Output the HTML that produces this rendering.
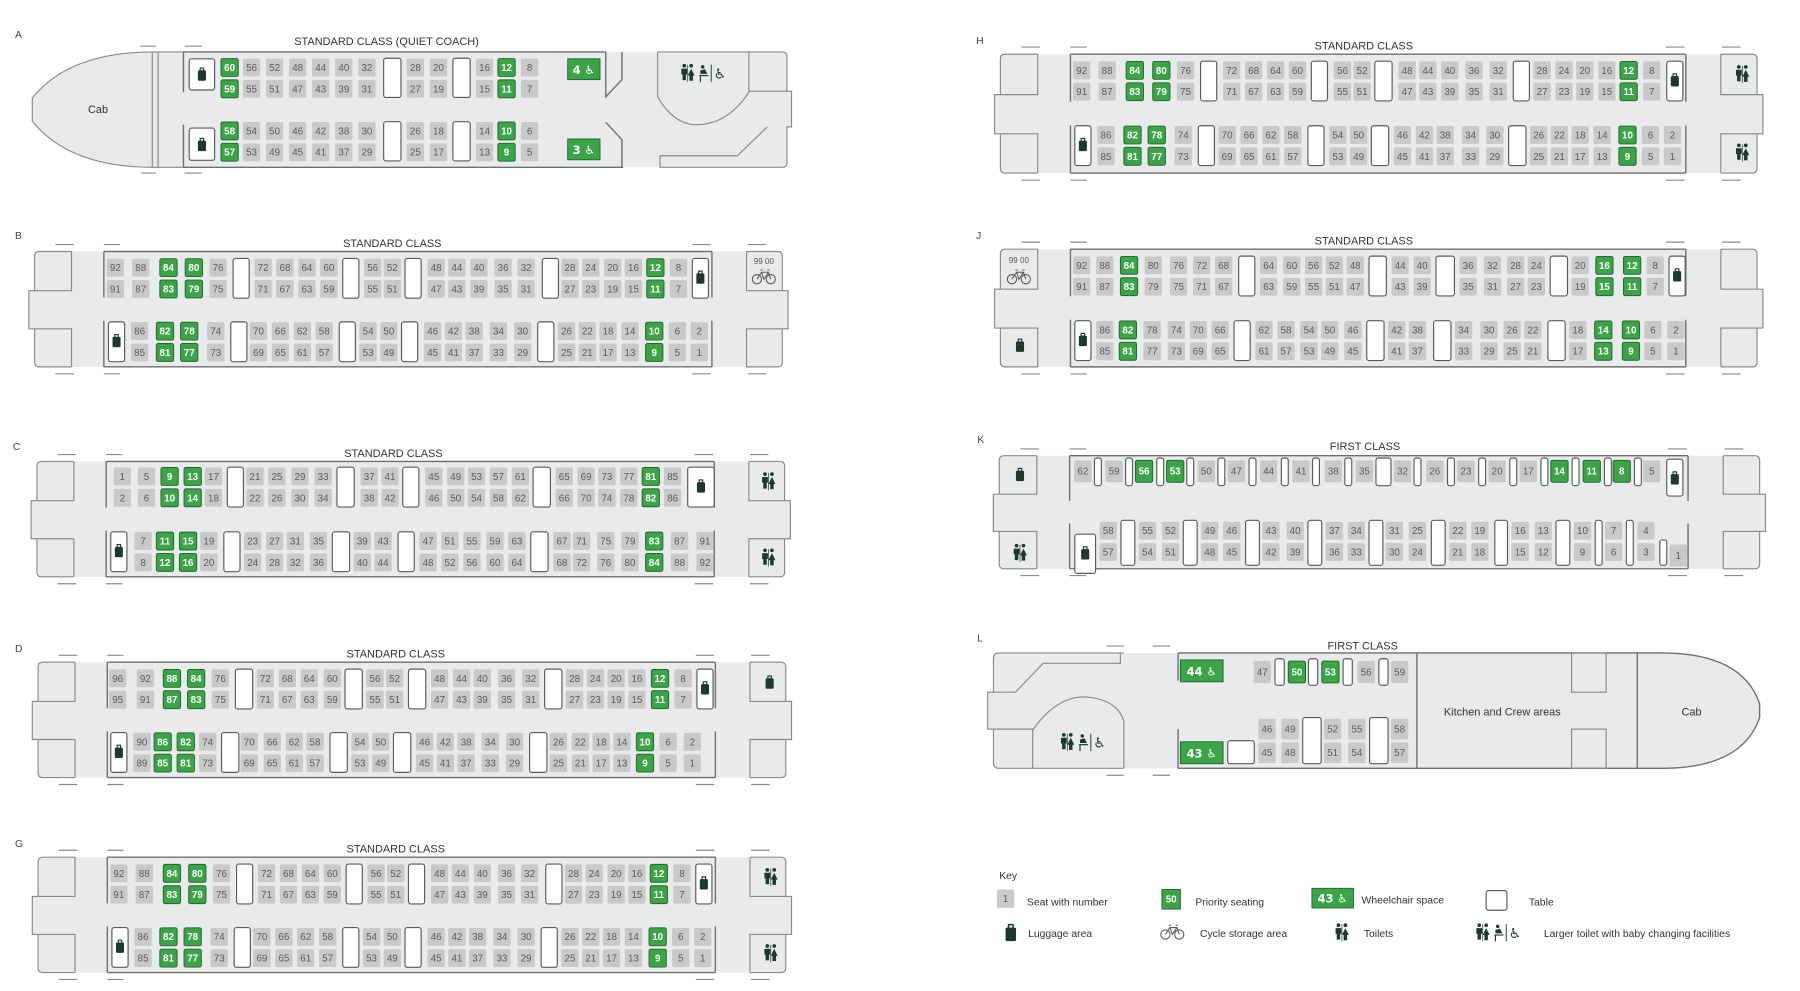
<!DOCTYPE html>
<html><head><meta charset="utf-8"><style>
html,body{margin:0;padding:0;background:#fff}
svg{display:block}
.n{font:8.5px "Liberation Sans Narrow","Liberation Sans",sans-serif;fill:#5a5a5a;text-anchor:middle}
.w{fill:#fff;font-weight:bold}
.t{fill:#fff;stroke:#5a5a5a;stroke-width:1}
.o{fill:none;stroke:#8a8a8a;stroke-width:1}
.s{fill:none;stroke:#6f6f6f;stroke-width:1.2}
.h{font:9.5px "Liberation Sans",sans-serif;fill:#333;text-anchor:middle}
.k{font:9px "Liberation Sans",sans-serif;fill:#333}
.lb{font:9px "Liberation Sans",sans-serif;fill:#444}
.wh{font:10px "DejaVu Sans",sans-serif;fill:#fff;text-anchor:middle;font-weight:bold}
.g{fill:#3aa447;stroke:#22662f;stroke-width:.8}
</style></head><body>
<svg width="1800" height="991" viewBox="0 0 1560 859" preserveAspectRatio="none" xmlns="http://www.w3.org/2000/svg">
<defs>
<g id="P"><rect x="-7.5" y="-7.75" width="15" height="15.5" rx="1.5" fill="#c9c9c9"/><rect x="-7.5" y="10.75" width="15" height="15.5" rx="1.5" fill="#c9c9c9"/></g>
<g id="Q"><rect class="g" x="-7.5" y="-7.75" width="15" height="15.5" rx="1.5"/><rect class="g" x="-7.5" y="10.75" width="15" height="15.5" rx="1.5"/></g>
<g id="lug" fill="#1c3a2b"><rect x="-3.5" y="-3" width="7" height="9" rx="1"/><rect x="-1.5" y="-5" width="3" height="2.5" fill="none" stroke="#1c3a2b" stroke-width="1"/></g>
<g id="wc" fill="#1c3a2b"><circle cx="-3" cy="-6" r="1.6"/><path d="M-5.5,-3.5h5v5h-1v5h-3v-5h-1z"/><circle cx="3" cy="-6" r="1.6"/><path d="M3,-3.5l3,6h-1.5v4.5h-3v-4.5h-1.5z"/><rect x="-0.3" y="-7" width="0.6" height="15"/></g>
<g id="bk" fill="none" stroke="#555" stroke-width="0.9"><circle cx="-6" cy="2" r="4"/><circle cx="6" cy="2" r="4"/><path d="M-6,2L-2,-4H4L6,2M-2,-4L0,2L4,-4M-3,-6H-1M3,-6H5"/></g>
<g id="big"><use href="#wc" x="-15" y="0"/><g fill="#1c3a2b"><circle cx="-2" cy="-5" r="1.5"/><path d="M-4,-2L0,-3L2,1H-4z"/><path d="M-5,2H3V3H-5z"/><rect x="-4.5" y="3" width="1" height="5"/></g><rect x="5" y="-7" width="0.8" height="15" fill="#1c3a2b"/><text x="13" y="5" style="font:12px 'DejaVu Sans',sans-serif;fill:#1c3a2b;text-anchor:middle">♿</text></g>
<g id="SH">
<rect x="0" y="0" width="648" height="100" rx="4" fill="#e9eaeb"/>
<rect x="-5" y="34" width="658" height="33" fill="#e9eaeb"/>
<path class="o" d="M32,0H4Q0,0 0,4V34H-5V67H0V96Q0,100 4,100H32M32,0V34H0M32,100V67H0"/>
<path class="o" d="M617,0H644Q648,0 648,4V34H653V67H648V96Q648,100 644,100H617M617,0V34H648M617,100V67H648"/>
<path class="s" d="M60,0H587M60,100H587M60,0V40M60,60V100M587,0V40M587,60V100"/>
<path class="o" d="M18,-6H34M60,-6H74M570,-6H586M618,-6H634M18,106H34M60,106H74M570,106H586M618,106H634"/>
</g>
</defs>

<!-- ============ A ============ -->
<text class="lb" x="13" y="33">A</text>
<text class="h" x="335" y="39">STANDARD CLASS (QUIET COACH)</text>
<path fill="#e9eaeb" d="M133,45H678Q682,45 682,49V141Q682,145 678,145H133Q60,145 28,105V85Q60,45 133,45Z"/>
<rect x="682" y="79" width="4" height="31" fill="#e9eaeb"/>
<path class="o" d="M159,45H133Q60,45 28,85V105Q60,145 133,145H159M132,45V145M137,45V145"/>
<path class="s" d="M159,45H525M159,145H540M159,45V80M159,108V145M525,45V84L539,69V45M525,106L539,121V145"/>
<path class="o" d="M570,45H678Q682,45 682,49V79H686V110H682V141Q682,145 678,145H572V135H639L665,110M570,45V84Q585,110 607,108Q632,106 649,80V45M649,79H686"/>
<path class="o" d="M122,40H135M160,40H175M122,150H135M160,150H175"/>
<text class="h" x="85" y="98">Cab</text>
<rect class="t" x="164" y="51" width="22" height="27" rx="2"/><use href="#lug" x="175" y="64"/>
<rect class="t" x="164" y="111" width="22" height="28" rx="2"/><use href="#lug" x="175" y="125"/>
<use href="#Q" x="199" y="58.5"/><use href="#P" x="218" y="58.5"/><use href="#P" x="238" y="58.5"/><use href="#P" x="258" y="58.5"/><use href="#P" x="278" y="58.5"/><use href="#P" x="298" y="58.5"/><use href="#P" x="318" y="58.5"/><use href="#P" x="360" y="58.5"/><use href="#P" x="380" y="58.5"/><use href="#P" x="420" y="58.5"/><use href="#Q" x="439" y="58.5"/><use href="#P" x="459" y="58.5"/>
<use href="#Q" x="199" y="113.5"/><use href="#P" x="218" y="113.5"/><use href="#P" x="238" y="113.5"/><use href="#P" x="258" y="113.5"/><use href="#P" x="278" y="113.5"/><use href="#P" x="298" y="113.5"/><use href="#P" x="318" y="113.5"/><use href="#P" x="360" y="113.5"/><use href="#P" x="380" y="113.5"/><use href="#P" x="420" y="113.5"/><use href="#Q" x="439" y="113.5"/><use href="#P" x="459" y="113.5"/>
<rect class="t" x="332.5" y="50.5" width="15" height="34" rx="2"/><rect class="t" x="392.5" y="50.5" width="15" height="34" rx="2"/>
<rect class="t" x="332.5" y="105.5" width="15" height="34" rx="2"/><rect class="t" x="392.5" y="105.5" width="15" height="34" rx="2"/>
<text class="n" y="61.5"><tspan x="199" class="w">60</tspan><tspan x="218">56</tspan><tspan x="238">52</tspan><tspan x="258">48</tspan><tspan x="278">44</tspan><tspan x="298">40</tspan><tspan x="318">32</tspan><tspan x="360">28</tspan><tspan x="380">20</tspan><tspan x="420">16</tspan><tspan x="439" class="w">12</tspan><tspan x="459">8</tspan></text>
<text class="n" y="80"><tspan x="199" class="w">59</tspan><tspan x="218">55</tspan><tspan x="238">51</tspan><tspan x="258">47</tspan><tspan x="278">43</tspan><tspan x="298">39</tspan><tspan x="318">31</tspan><tspan x="360">27</tspan><tspan x="380">19</tspan><tspan x="420">15</tspan><tspan x="439" class="w">11</tspan><tspan x="459">7</tspan></text>
<text class="n" y="116.5"><tspan x="199" class="w">58</tspan><tspan x="218">54</tspan><tspan x="238">50</tspan><tspan x="258">46</tspan><tspan x="278">42</tspan><tspan x="298">38</tspan><tspan x="318">30</tspan><tspan x="360">26</tspan><tspan x="380">18</tspan><tspan x="420">14</tspan><tspan x="439" class="w">10</tspan><tspan x="459">6</tspan></text>
<text class="n" y="135"><tspan x="199" class="w">57</tspan><tspan x="218">53</tspan><tspan x="238">49</tspan><tspan x="258">45</tspan><tspan x="278">41</tspan><tspan x="298">37</tspan><tspan x="318">29</tspan><tspan x="360">25</tspan><tspan x="380">17</tspan><tspan x="420">13</tspan><tspan x="439" class="w">9</tspan><tspan x="459">5</tspan></text>
<rect class="g" x="492" y="51" width="28" height="18"/><text class="wh" x="506" y="64">4 ♿</text>
<rect class="g" x="492" y="120.5" width="28" height="18"/><text class="wh" x="506" y="133.5">3 ♿</text>
<use href="#big" x="611" y="63"/>

<!-- ============ B ============ -->
<text class="lb" x="13" y="207">B</text>
<text class="h" x="340" y="214">STANDARD CLASS</text>
<use href="#SH" x="30" y="218"/>
<text x="662" y="229" style="font:7px 'Liberation Sans',sans-serif;fill:#555;text-anchor:middle">99 00</text><use href="#bk" x="662" y="240"/>
<use href="#P" x="100" y="232"/><use href="#P" x="122" y="232"/><use href="#Q" x="146" y="232"/><use href="#Q" x="168" y="232"/><use href="#P" x="189" y="232"/><use href="#P" x="228" y="232"/><use href="#P" x="247" y="232"/><use href="#P" x="266" y="232"/><use href="#P" x="285" y="232"/><use href="#P" x="323" y="232"/><use href="#P" x="340" y="232"/><use href="#P" x="378" y="232"/><use href="#P" x="396" y="232"/><use href="#P" x="415" y="232"/><use href="#P" x="436" y="232"/><use href="#P" x="456" y="232"/><use href="#P" x="494" y="232"/><use href="#P" x="512" y="232"/><use href="#P" x="531" y="232"/><use href="#P" x="549" y="232"/><use href="#Q" x="568" y="232"/><use href="#P" x="588" y="232"/>
<rect class="t" x="202" y="224" width="14" height="34.5" rx="2"/><rect class="t" x="297" y="224" width="14" height="34.5" rx="2"/><rect class="t" x="351" y="224" width="14" height="34.5" rx="2"/><rect class="t" x="470" y="224" width="14" height="34.5" rx="2"/>
<rect class="t" x="600" y="224" width="14" height="34.5" rx="2"/><use href="#lug" x="607" y="240"/>
<text class="n" y="235"><tspan x="100">92</tspan><tspan x="122">88</tspan><tspan x="146" class="w">84</tspan><tspan x="168" class="w">80</tspan><tspan x="189">76</tspan><tspan x="228">72</tspan><tspan x="247">68</tspan><tspan x="266">64</tspan><tspan x="285">60</tspan><tspan x="323">56</tspan><tspan x="340">52</tspan><tspan x="378">48</tspan><tspan x="396">44</tspan><tspan x="415">40</tspan><tspan x="436">36</tspan><tspan x="456">32</tspan><tspan x="494">28</tspan><tspan x="512">24</tspan><tspan x="531">20</tspan><tspan x="549">16</tspan><tspan x="568" class="w">12</tspan><tspan x="588">8</tspan></text>
<text class="n" y="253.5"><tspan x="100">91</tspan><tspan x="122">87</tspan><tspan x="146" class="w">83</tspan><tspan x="168" class="w">79</tspan><tspan x="189">75</tspan><tspan x="228">71</tspan><tspan x="247">67</tspan><tspan x="266">63</tspan><tspan x="285">59</tspan><tspan x="323">55</tspan><tspan x="340">51</tspan><tspan x="378">47</tspan><tspan x="396">43</tspan><tspan x="415">39</tspan><tspan x="436">35</tspan><tspan x="456">31</tspan><tspan x="494">27</tspan><tspan x="512">23</tspan><tspan x="531">19</tspan><tspan x="549">15</tspan><tspan x="568" class="w">11</tspan><tspan x="588">7</tspan></text>
<rect class="t" x="94" y="279" width="14" height="34.5" rx="2"/><use href="#lug" x="101" y="295"/>
<use href="#P" x="121" y="287"/><use href="#Q" x="143" y="287"/><use href="#Q" x="164" y="287"/><use href="#P" x="187" y="287"/><use href="#P" x="224" y="287"/><use href="#P" x="243" y="287"/><use href="#P" x="262" y="287"/><use href="#P" x="281" y="287"/><use href="#P" x="319" y="287"/><use href="#P" x="337" y="287"/><use href="#P" x="375" y="287"/><use href="#P" x="393" y="287"/><use href="#P" x="411" y="287"/><use href="#P" x="432" y="287"/><use href="#P" x="453" y="287"/><use href="#P" x="491" y="287"/><use href="#P" x="509" y="287"/><use href="#P" x="527" y="287"/><use href="#P" x="546" y="287"/><use href="#Q" x="567" y="287"/><use href="#P" x="587" y="287"/><use href="#P" x="606" y="287"/>
<rect class="t" x="200" y="279" width="14" height="34.5" rx="2"/><rect class="t" x="294" y="279" width="14" height="34.5" rx="2"/><rect class="t" x="348" y="279" width="14" height="34.5" rx="2"/><rect class="t" x="466" y="279" width="14" height="34.5" rx="2"/>
<text class="n" y="290"><tspan x="121">86</tspan><tspan x="143" class="w">82</tspan><tspan x="164" class="w">78</tspan><tspan x="187">74</tspan><tspan x="224">70</tspan><tspan x="243">66</tspan><tspan x="262">62</tspan><tspan x="281">58</tspan><tspan x="319">54</tspan><tspan x="337">50</tspan><tspan x="375">46</tspan><tspan x="393">42</tspan><tspan x="411">38</tspan><tspan x="432">34</tspan><tspan x="453">30</tspan><tspan x="491">26</tspan><tspan x="509">22</tspan><tspan x="527">18</tspan><tspan x="546">14</tspan><tspan x="567" class="w">10</tspan><tspan x="587">6</tspan><tspan x="606">2</tspan></text>
<text class="n" y="308.5"><tspan x="121">85</tspan><tspan x="143" class="w">81</tspan><tspan x="164" class="w">77</tspan><tspan x="187">73</tspan><tspan x="224">69</tspan><tspan x="243">65</tspan><tspan x="262">61</tspan><tspan x="281">57</tspan><tspan x="319">53</tspan><tspan x="337">49</tspan><tspan x="375">45</tspan><tspan x="393">41</tspan><tspan x="411">37</tspan><tspan x="432">33</tspan><tspan x="453">29</tspan><tspan x="491">25</tspan><tspan x="509">21</tspan><tspan x="527">17</tspan><tspan x="546">13</tspan><tspan x="567" class="w">9</tspan><tspan x="587">5</tspan><tspan x="606">1</tspan></text>

<!-- ============ C ============ -->
<text class="lb" x="11" y="390">C</text>
<text class="h" x="341" y="396">STANDARD CLASS</text>
<use href="#SH" x="32" y="400"/>
<use href="#wc" x="666" y="417"/><use href="#wc" x="666" y="483"/>
<use href="#P" x="106" y="413"/><use href="#P" x="127" y="413"/><use href="#Q" x="147" y="413"/><use href="#Q" x="167" y="413"/><use href="#P" x="185" y="413"/><use href="#P" x="221" y="413"/><use href="#P" x="240" y="413"/><use href="#P" x="260" y="413"/><use href="#P" x="280" y="413"/><use href="#P" x="320" y="413"/><use href="#P" x="338" y="413"/><use href="#P" x="376" y="413"/><use href="#P" x="395" y="413"/><use href="#P" x="413" y="413"/><use href="#P" x="432" y="413"/><use href="#P" x="451" y="413"/><use href="#P" x="489" y="413"/><use href="#P" x="508" y="413"/><use href="#P" x="526" y="413"/><use href="#P" x="545" y="413"/><use href="#Q" x="564" y="413"/><use href="#P" x="583" y="413"/>
<rect class="t" x="197" y="405" width="14" height="34.5" rx="2"/><rect class="t" x="292" y="405" width="15" height="34.5" rx="2"/><rect class="t" x="349" y="405" width="14" height="34.5" rx="2"/><rect class="t" x="462" y="405" width="15" height="34.5" rx="2"/>
<rect class="t" x="596" y="405" width="23" height="34.5" rx="2"/><use href="#lug" x="607.5" y="421"/>
<text class="n" y="416"><tspan x="106">1</tspan><tspan x="127">5</tspan><tspan x="147" class="w">9</tspan><tspan x="167" class="w">13</tspan><tspan x="185">17</tspan><tspan x="221">21</tspan><tspan x="240">25</tspan><tspan x="260">29</tspan><tspan x="280">33</tspan><tspan x="320">37</tspan><tspan x="338">41</tspan><tspan x="376">45</tspan><tspan x="395">49</tspan><tspan x="413">53</tspan><tspan x="432">57</tspan><tspan x="451">61</tspan><tspan x="489">65</tspan><tspan x="508">69</tspan><tspan x="526">73</tspan><tspan x="545">77</tspan><tspan x="564" class="w">81</tspan><tspan x="583">85</tspan></text>
<text class="n" y="434.5"><tspan x="106">2</tspan><tspan x="127">6</tspan><tspan x="147" class="w">10</tspan><tspan x="167" class="w">14</tspan><tspan x="185">18</tspan><tspan x="221">22</tspan><tspan x="240">26</tspan><tspan x="260">30</tspan><tspan x="280">34</tspan><tspan x="320">38</tspan><tspan x="338">42</tspan><tspan x="376">46</tspan><tspan x="395">50</tspan><tspan x="413">54</tspan><tspan x="432">58</tspan><tspan x="451">62</tspan><tspan x="489">66</tspan><tspan x="508">70</tspan><tspan x="526">74</tspan><tspan x="545">78</tspan><tspan x="564" class="w">82</tspan><tspan x="583">86</tspan></text>
<rect class="t" x="96" y="461" width="14" height="34.5" rx="2"/><use href="#lug" x="103" y="477"/>
<use href="#P" x="124" y="469"/><use href="#Q" x="143" y="469"/><use href="#Q" x="163" y="469"/><use href="#P" x="181" y="469"/><use href="#P" x="219" y="469"/><use href="#P" x="238" y="469"/><use href="#P" x="256" y="469"/><use href="#P" x="276" y="469"/><use href="#P" x="314" y="469"/><use href="#P" x="332" y="469"/><use href="#P" x="371" y="469"/><use href="#P" x="390" y="469"/><use href="#P" x="409" y="469"/><use href="#P" x="429" y="469"/><use href="#P" x="448" y="469"/><use href="#P" x="487" y="469"/><use href="#P" x="504" y="469"/><use href="#P" x="525" y="469"/><use href="#P" x="546" y="469"/><use href="#Q" x="567" y="469"/><use href="#P" x="589" y="469"/><use href="#P" x="611" y="469"/>
<rect class="t" x="194" y="461" width="14" height="34.5" rx="2"/><rect class="t" x="288" y="461" width="15" height="34.5" rx="2"/><rect class="t" x="345" y="461" width="14" height="34.5" rx="2"/><rect class="t" x="460" y="461" width="15" height="34.5" rx="2"/>
<text class="n" y="472"><tspan x="124">7</tspan><tspan x="143" class="w">11</tspan><tspan x="163" class="w">15</tspan><tspan x="181">19</tspan><tspan x="219">23</tspan><tspan x="238">27</tspan><tspan x="256">31</tspan><tspan x="276">35</tspan><tspan x="314">39</tspan><tspan x="332">43</tspan><tspan x="371">47</tspan><tspan x="390">51</tspan><tspan x="409">55</tspan><tspan x="429">59</tspan><tspan x="448">63</tspan><tspan x="487">67</tspan><tspan x="504">71</tspan><tspan x="525">75</tspan><tspan x="546">79</tspan><tspan x="567" class="w">83</tspan><tspan x="589">87</tspan><tspan x="611">91</tspan></text>
<text class="n" y="490.5"><tspan x="124">8</tspan><tspan x="143" class="w">12</tspan><tspan x="163" class="w">16</tspan><tspan x="181">20</tspan><tspan x="219">24</tspan><tspan x="238">28</tspan><tspan x="256">32</tspan><tspan x="276">36</tspan><tspan x="314">40</tspan><tspan x="332">44</tspan><tspan x="371">48</tspan><tspan x="390">52</tspan><tspan x="409">56</tspan><tspan x="429">60</tspan><tspan x="448">64</tspan><tspan x="487">68</tspan><tspan x="504">72</tspan><tspan x="525">76</tspan><tspan x="546">80</tspan><tspan x="567" class="w">84</tspan><tspan x="589">88</tspan><tspan x="611">92</tspan></text>

<!-- ============ D ============ -->
<text class="lb" x="13" y="565">D</text>
<text class="h" x="343" y="570">STANDARD CLASS</text>
<use href="#SH" x="33" y="574"/>
<use href="#lug" x="667" y="591"/>
<use href="#P" x="102" y="588"/><use href="#P" x="126" y="588"/><use href="#Q" x="149" y="588"/><use href="#Q" x="170" y="588"/><use href="#P" x="191" y="588"/><use href="#P" x="230" y="588"/><use href="#P" x="249" y="588"/><use href="#P" x="268" y="588"/><use href="#P" x="288" y="588"/><use href="#P" x="325" y="588"/><use href="#P" x="342" y="588"/><use href="#P" x="381" y="588"/><use href="#P" x="400" y="588"/><use href="#P" x="418" y="588"/><use href="#P" x="439" y="588"/><use href="#P" x="460" y="588"/><use href="#P" x="498" y="588"/><use href="#P" x="516" y="588"/><use href="#P" x="534" y="588"/><use href="#P" x="552" y="588"/><use href="#Q" x="572" y="588"/><use href="#P" x="592" y="588"/>
<rect class="t" x="204" y="580" width="15" height="34.5" rx="2"/><rect class="t" x="299" y="580" width="15" height="34.5" rx="2"/><rect class="t" x="354" y="580" width="15" height="34.5" rx="2"/><rect class="t" x="472" y="580" width="15" height="34.5" rx="2"/>
<rect class="t" x="604" y="580" width="14" height="34.5" rx="2"/><use href="#lug" x="611" y="596"/>
<text class="n" y="591"><tspan x="102">96</tspan><tspan x="126">92</tspan><tspan x="149" class="w">88</tspan><tspan x="170" class="w">84</tspan><tspan x="191">76</tspan><tspan x="230">72</tspan><tspan x="249">68</tspan><tspan x="268">64</tspan><tspan x="288">60</tspan><tspan x="325">56</tspan><tspan x="342">52</tspan><tspan x="381">48</tspan><tspan x="400">44</tspan><tspan x="418">40</tspan><tspan x="439">36</tspan><tspan x="460">32</tspan><tspan x="498">28</tspan><tspan x="516">24</tspan><tspan x="534">20</tspan><tspan x="552">16</tspan><tspan x="572" class="w">12</tspan><tspan x="592">8</tspan></text>
<text class="n" y="609.5"><tspan x="102">95</tspan><tspan x="126">91</tspan><tspan x="149" class="w">87</tspan><tspan x="170" class="w">83</tspan><tspan x="191">75</tspan><tspan x="230">71</tspan><tspan x="249">67</tspan><tspan x="268">63</tspan><tspan x="288">59</tspan><tspan x="325">55</tspan><tspan x="342">51</tspan><tspan x="381">47</tspan><tspan x="400">43</tspan><tspan x="418">39</tspan><tspan x="439">35</tspan><tspan x="460">31</tspan><tspan x="498">27</tspan><tspan x="516">23</tspan><tspan x="534">19</tspan><tspan x="552">15</tspan><tspan x="572" class="w">11</tspan><tspan x="592">7</tspan></text>
<rect class="t" x="96" y="635" width="14" height="34.5" rx="2"/><use href="#lug" x="103" y="651"/>
<use href="#P" x="123" y="643"/><use href="#Q" x="141" y="643"/><use href="#Q" x="161" y="643"/><use href="#P" x="180" y="643"/><use href="#P" x="216" y="643"/><use href="#P" x="236" y="643"/><use href="#P" x="255" y="643"/><use href="#P" x="273" y="643"/><use href="#P" x="312" y="643"/><use href="#P" x="330" y="643"/><use href="#P" x="368" y="643"/><use href="#P" x="386" y="643"/><use href="#P" x="404" y="643"/><use href="#P" x="425" y="643"/><use href="#P" x="446" y="643"/><use href="#P" x="484" y="643"/><use href="#P" x="503" y="643"/><use href="#P" x="521" y="643"/><use href="#P" x="539" y="643"/><use href="#Q" x="559" y="643"/><use href="#P" x="579" y="643"/><use href="#P" x="600" y="643"/>
<rect class="t" x="192" y="635" width="15" height="34.5" rx="2"/><rect class="t" x="286" y="635" width="15" height="34.5" rx="2"/><rect class="t" x="341" y="635" width="15" height="34.5" rx="2"/><rect class="t" x="459" y="635" width="15" height="34.5" rx="2"/>
<text class="n" y="646"><tspan x="123">90</tspan><tspan x="141" class="w">86</tspan><tspan x="161" class="w">82</tspan><tspan x="180">74</tspan><tspan x="216">70</tspan><tspan x="236">66</tspan><tspan x="255">62</tspan><tspan x="273">58</tspan><tspan x="312">54</tspan><tspan x="330">50</tspan><tspan x="368">46</tspan><tspan x="386">42</tspan><tspan x="404">38</tspan><tspan x="425">34</tspan><tspan x="446">30</tspan><tspan x="484">26</tspan><tspan x="503">22</tspan><tspan x="521">18</tspan><tspan x="539">14</tspan><tspan x="559" class="w">10</tspan><tspan x="579">6</tspan><tspan x="600">2</tspan></text>
<text class="n" y="664.5"><tspan x="123">89</tspan><tspan x="141" class="w">85</tspan><tspan x="161" class="w">81</tspan><tspan x="180">73</tspan><tspan x="216">69</tspan><tspan x="236">65</tspan><tspan x="255">61</tspan><tspan x="273">57</tspan><tspan x="312">53</tspan><tspan x="330">49</tspan><tspan x="368">45</tspan><tspan x="386">41</tspan><tspan x="404">37</tspan><tspan x="425">33</tspan><tspan x="446">29</tspan><tspan x="484">25</tspan><tspan x="503">21</tspan><tspan x="521">17</tspan><tspan x="539">13</tspan><tspan x="559" class="w">9</tspan><tspan x="579">5</tspan><tspan x="600">1</tspan></text>

<!-- ============ G ============ -->
<text class="lb" x="13" y="734">G</text>
<text class="h" x="343" y="739">STANDARD CLASS</text>
<use href="#SH" x="33" y="743"/>
<use href="#wc" x="668" y="760"/><use href="#wc" x="668" y="826"/>
<use href="#P" x="103" y="757"/><use href="#P" x="125" y="757"/><use href="#Q" x="149" y="757"/><use href="#Q" x="171" y="757"/><use href="#P" x="192" y="757"/><use href="#P" x="231" y="757"/><use href="#P" x="250" y="757"/><use href="#P" x="269" y="757"/><use href="#P" x="288" y="757"/><use href="#P" x="326" y="757"/><use href="#P" x="343" y="757"/><use href="#P" x="381" y="757"/><use href="#P" x="399" y="757"/><use href="#P" x="418" y="757"/><use href="#P" x="439" y="757"/><use href="#P" x="459" y="757"/><use href="#P" x="497" y="757"/><use href="#P" x="515" y="757"/><use href="#P" x="534" y="757"/><use href="#P" x="552" y="757"/><use href="#Q" x="571" y="757"/><use href="#P" x="591" y="757"/>
<rect class="t" x="205" y="749" width="14" height="34.5" rx="2"/><rect class="t" x="300" y="749" width="14" height="34.5" rx="2"/><rect class="t" x="354" y="749" width="14" height="34.5" rx="2"/><rect class="t" x="473" y="749" width="14" height="34.5" rx="2"/>
<rect class="t" x="603" y="749" width="14" height="34.5" rx="2"/><use href="#lug" x="610" y="765"/>
<text class="n" y="760"><tspan x="103">92</tspan><tspan x="125">88</tspan><tspan x="149" class="w">84</tspan><tspan x="171" class="w">80</tspan><tspan x="192">76</tspan><tspan x="231">72</tspan><tspan x="250">68</tspan><tspan x="269">64</tspan><tspan x="288">60</tspan><tspan x="326">56</tspan><tspan x="343">52</tspan><tspan x="381">48</tspan><tspan x="399">44</tspan><tspan x="418">40</tspan><tspan x="439">36</tspan><tspan x="459">32</tspan><tspan x="497">28</tspan><tspan x="515">24</tspan><tspan x="534">20</tspan><tspan x="552">16</tspan><tspan x="571" class="w">12</tspan><tspan x="591">8</tspan></text>
<text class="n" y="778.5"><tspan x="103">91</tspan><tspan x="125">87</tspan><tspan x="149" class="w">83</tspan><tspan x="171" class="w">79</tspan><tspan x="192">75</tspan><tspan x="231">71</tspan><tspan x="250">67</tspan><tspan x="269">63</tspan><tspan x="288">59</tspan><tspan x="326">55</tspan><tspan x="343">51</tspan><tspan x="381">47</tspan><tspan x="399">43</tspan><tspan x="418">39</tspan><tspan x="439">35</tspan><tspan x="459">31</tspan><tspan x="497">27</tspan><tspan x="515">23</tspan><tspan x="534">19</tspan><tspan x="552">15</tspan><tspan x="571" class="w">11</tspan><tspan x="591">7</tspan></text>
<rect class="t" x="97" y="804" width="14" height="34.5" rx="2"/><use href="#lug" x="104" y="820"/>
<use href="#P" x="124" y="812"/><use href="#Q" x="146" y="812"/><use href="#Q" x="167" y="812"/><use href="#P" x="190" y="812"/><use href="#P" x="227" y="812"/><use href="#P" x="246" y="812"/><use href="#P" x="265" y="812"/><use href="#P" x="284" y="812"/><use href="#P" x="322" y="812"/><use href="#P" x="340" y="812"/><use href="#P" x="378" y="812"/><use href="#P" x="396" y="812"/><use href="#P" x="414" y="812"/><use href="#P" x="435" y="812"/><use href="#P" x="456" y="812"/><use href="#P" x="494" y="812"/><use href="#P" x="512" y="812"/><use href="#P" x="530" y="812"/><use href="#P" x="549" y="812"/><use href="#Q" x="570" y="812"/><use href="#P" x="590" y="812"/><use href="#P" x="609" y="812"/>
<rect class="t" x="203" y="804" width="14" height="34.5" rx="2"/><rect class="t" x="297" y="804" width="14" height="34.5" rx="2"/><rect class="t" x="351" y="804" width="14" height="34.5" rx="2"/><rect class="t" x="469" y="804" width="14" height="34.5" rx="2"/>
<text class="n" y="815"><tspan x="124">86</tspan><tspan x="146" class="w">82</tspan><tspan x="167" class="w">78</tspan><tspan x="190">74</tspan><tspan x="227">70</tspan><tspan x="246">66</tspan><tspan x="265">62</tspan><tspan x="284">58</tspan><tspan x="322">54</tspan><tspan x="340">50</tspan><tspan x="378">46</tspan><tspan x="396">42</tspan><tspan x="414">38</tspan><tspan x="435">34</tspan><tspan x="456">30</tspan><tspan x="494">26</tspan><tspan x="512">22</tspan><tspan x="530">18</tspan><tspan x="549">14</tspan><tspan x="570" class="w">10</tspan><tspan x="590">6</tspan><tspan x="609">2</tspan></text>
<text class="n" y="833.5"><tspan x="124">85</tspan><tspan x="146" class="w">81</tspan><tspan x="167" class="w">77</tspan><tspan x="190">73</tspan><tspan x="227">69</tspan><tspan x="246">65</tspan><tspan x="265">61</tspan><tspan x="284">57</tspan><tspan x="322">53</tspan><tspan x="340">49</tspan><tspan x="378">45</tspan><tspan x="396">41</tspan><tspan x="414">37</tspan><tspan x="435">33</tspan><tspan x="456">29</tspan><tspan x="494">25</tspan><tspan x="512">21</tspan><tspan x="530">17</tspan><tspan x="549">13</tspan><tspan x="570" class="w">9</tspan><tspan x="590">5</tspan><tspan x="609">1</tspan></text>

<!-- ============ H ============ -->
<text class="lb" x="846" y="38">H</text>
<text class="h" x="1182" y="43">STANDARD CLASS</text>
<use href="#SH" transform="translate(867,47) scale(1.012,1.03)"/>
<use href="#wc" x="1510" y="64"/><use href="#wc" x="1510" y="132"/>
<g transform="translate(3.5,0)">
<use href="#P" x="934" y="61"/><use href="#P" x="956" y="61"/><use href="#Q" x="980" y="61"/><use href="#Q" x="1003" y="61"/><use href="#P" x="1024" y="61"/><use href="#P" x="1064" y="61"/><use href="#P" x="1083" y="61"/><use href="#P" x="1102" y="61"/><use href="#P" x="1121" y="61"/><use href="#P" x="1160" y="61"/><use href="#P" x="1177" y="61"/><use href="#P" x="1216" y="61"/><use href="#P" x="1234" y="61"/><use href="#P" x="1253" y="61"/><use href="#P" x="1274" y="61"/><use href="#P" x="1295" y="61"/><use href="#P" x="1333" y="61"/><use href="#P" x="1352" y="61"/><use href="#P" x="1370" y="61"/><use href="#P" x="1389" y="61"/><use href="#Q" x="1408" y="61"/><use href="#P" x="1428" y="61"/>
<rect class="t" x="1037" y="53" width="14" height="34.5" rx="2"/><rect class="t" x="1133" y="53" width="14" height="34.5" rx="2"/><rect class="t" x="1188" y="53" width="15" height="34.5" rx="2"/><rect class="t" x="1308" y="53" width="14" height="34.5" rx="2"/>
<rect class="t" x="1441" y="53" width="14" height="34.5" rx="2"/><use href="#lug" x="1448" y="69"/>
<text class="n" y="64"><tspan x="934">92</tspan><tspan x="956">88</tspan><tspan x="980" class="w">84</tspan><tspan x="1003" class="w">80</tspan><tspan x="1024">76</tspan><tspan x="1064">72</tspan><tspan x="1083">68</tspan><tspan x="1102">64</tspan><tspan x="1121">60</tspan><tspan x="1160">56</tspan><tspan x="1177">52</tspan><tspan x="1216">48</tspan><tspan x="1234">44</tspan><tspan x="1253">40</tspan><tspan x="1274">36</tspan><tspan x="1295">32</tspan><tspan x="1333">28</tspan><tspan x="1352">24</tspan><tspan x="1370">20</tspan><tspan x="1389">16</tspan><tspan x="1408" class="w">12</tspan><tspan x="1428">8</tspan></text>
<text class="n" y="82.5"><tspan x="934">91</tspan><tspan x="956">87</tspan><tspan x="980" class="w">83</tspan><tspan x="1003" class="w">79</tspan><tspan x="1024">75</tspan><tspan x="1064">71</tspan><tspan x="1083">67</tspan><tspan x="1102">63</tspan><tspan x="1121">59</tspan><tspan x="1160">55</tspan><tspan x="1177">51</tspan><tspan x="1216">47</tspan><tspan x="1234">43</tspan><tspan x="1253">39</tspan><tspan x="1274">35</tspan><tspan x="1295">31</tspan><tspan x="1333">27</tspan><tspan x="1352">23</tspan><tspan x="1370">19</tspan><tspan x="1389">15</tspan><tspan x="1408" class="w">11</tspan><tspan x="1428">7</tspan></text>
<rect class="t" x="928" y="109" width="14" height="34.5" rx="2"/><use href="#lug" x="935" y="125"/>
<use href="#P" x="955" y="117"/><use href="#Q" x="978" y="117"/><use href="#Q" x="999" y="117"/><use href="#P" x="1022" y="117"/><use href="#P" x="1060" y="117"/><use href="#P" x="1079" y="117"/><use href="#P" x="1098" y="117"/><use href="#P" x="1117" y="117"/><use href="#P" x="1156" y="117"/><use href="#P" x="1174" y="117"/><use href="#P" x="1212" y="117"/><use href="#P" x="1231" y="117"/><use href="#P" x="1249" y="117"/><use href="#P" x="1271" y="117"/><use href="#P" x="1292" y="117"/><use href="#P" x="1330" y="117"/><use href="#P" x="1348" y="117"/><use href="#P" x="1366" y="117"/><use href="#P" x="1385" y="117"/><use href="#Q" x="1407" y="117"/><use href="#P" x="1427" y="117"/><use href="#P" x="1446" y="117"/>
<rect class="t" x="1035" y="109" width="14" height="34.5" rx="2"/><rect class="t" x="1130" y="109" width="14" height="34.5" rx="2"/><rect class="t" x="1185" y="109" width="15" height="34.5" rx="2"/><rect class="t" x="1304" y="109" width="15" height="34.5" rx="2"/>
<text class="n" y="120"><tspan x="955">86</tspan><tspan x="978" class="w">82</tspan><tspan x="999" class="w">78</tspan><tspan x="1022">74</tspan><tspan x="1060">70</tspan><tspan x="1079">66</tspan><tspan x="1098">62</tspan><tspan x="1117">58</tspan><tspan x="1156">54</tspan><tspan x="1174">50</tspan><tspan x="1212">46</tspan><tspan x="1231">42</tspan><tspan x="1249">38</tspan><tspan x="1271">34</tspan><tspan x="1292">30</tspan><tspan x="1330">26</tspan><tspan x="1348">22</tspan><tspan x="1366">18</tspan><tspan x="1385">14</tspan><tspan x="1407" class="w">10</tspan><tspan x="1427">6</tspan><tspan x="1446">2</tspan></text>
<text class="n" y="138.5"><tspan x="955">85</tspan><tspan x="978" class="w">81</tspan><tspan x="999" class="w">77</tspan><tspan x="1022">73</tspan><tspan x="1060">69</tspan><tspan x="1079">65</tspan><tspan x="1098">61</tspan><tspan x="1117">57</tspan><tspan x="1156">53</tspan><tspan x="1174">49</tspan><tspan x="1212">45</tspan><tspan x="1231">41</tspan><tspan x="1249">37</tspan><tspan x="1271">33</tspan><tspan x="1292">29</tspan><tspan x="1330">25</tspan><tspan x="1348">21</tspan><tspan x="1366">17</tspan><tspan x="1385">13</tspan><tspan x="1407" class="w">9</tspan><tspan x="1427">5</tspan><tspan x="1446">1</tspan></text>
</g>

<!-- ============ J ============ -->
<text class="lb" x="846" y="207">J</text>
<text class="h" x="1182" y="212">STANDARD CLASS</text>
<use href="#SH" transform="translate(867,216) scale(1.012,1.02)"/>
<text x="883" y="228" style="font:7px 'Liberation Sans',sans-serif;fill:#555;text-anchor:middle">99 00</text><use href="#bk" x="883" y="240"/>
<use href="#lug" x="884" y="299"/>
<g transform="translate(3.5,0)">
<use href="#P" x="934" y="230"/><use href="#P" x="954" y="230"/><use href="#Q" x="975" y="230"/><use href="#P" x="996" y="230"/><use href="#P" x="1018" y="230"/><use href="#P" x="1038" y="230"/><use href="#P" x="1057" y="230"/><use href="#P" x="1096" y="230"/><use href="#P" x="1116" y="230"/><use href="#P" x="1135" y="230"/><use href="#P" x="1153" y="230"/><use href="#P" x="1171" y="230"/><use href="#P" x="1210" y="230"/><use href="#P" x="1229" y="230"/><use href="#P" x="1269" y="230"/><use href="#P" x="1290" y="230"/><use href="#P" x="1310" y="230"/><use href="#P" x="1328" y="230"/><use href="#P" x="1366" y="230"/><use href="#Q" x="1387" y="230"/><use href="#Q" x="1411" y="230"/><use href="#P" x="1431" y="230"/>
<rect class="t" x="1070" y="222" width="14" height="34.5" rx="2"/><rect class="t" x="1183" y="222" width="15" height="34.5" rx="2"/><rect class="t" x="1241" y="222" width="16" height="34.5" rx="2"/><rect class="t" x="1340" y="222" width="15" height="34.5" rx="2"/>
<rect class="t" x="1443" y="222" width="14" height="34.5" rx="2"/><use href="#lug" x="1450" y="238"/>
<text class="n" y="233"><tspan x="934">92</tspan><tspan x="954">88</tspan><tspan x="975" class="w">84</tspan><tspan x="996">80</tspan><tspan x="1018">76</tspan><tspan x="1038">72</tspan><tspan x="1057">68</tspan><tspan x="1096">64</tspan><tspan x="1116">60</tspan><tspan x="1135">56</tspan><tspan x="1153">52</tspan><tspan x="1171">48</tspan><tspan x="1210">44</tspan><tspan x="1229">40</tspan><tspan x="1269">36</tspan><tspan x="1290">32</tspan><tspan x="1310">28</tspan><tspan x="1328">24</tspan><tspan x="1366">20</tspan><tspan x="1387" class="w">16</tspan><tspan x="1411" class="w">12</tspan><tspan x="1431">8</tspan></text>
<text class="n" y="251.5"><tspan x="934">91</tspan><tspan x="954">87</tspan><tspan x="975" class="w">83</tspan><tspan x="996">79</tspan><tspan x="1018">75</tspan><tspan x="1038">71</tspan><tspan x="1057">67</tspan><tspan x="1096">63</tspan><tspan x="1116">59</tspan><tspan x="1135">55</tspan><tspan x="1153">51</tspan><tspan x="1171">47</tspan><tspan x="1210">43</tspan><tspan x="1229">39</tspan><tspan x="1269">35</tspan><tspan x="1290">31</tspan><tspan x="1310">27</tspan><tspan x="1328">23</tspan><tspan x="1366">19</tspan><tspan x="1387" class="w">15</tspan><tspan x="1411" class="w">11</tspan><tspan x="1431">7</tspan></text>
<rect class="t" x="928" y="278" width="14" height="34.5" rx="2"/><use href="#lug" x="935" y="294"/>
<use href="#P" x="954" y="286"/><use href="#Q" x="974" y="286"/><use href="#P" x="995" y="286"/><use href="#P" x="1016" y="286"/><use href="#P" x="1035" y="286"/><use href="#P" x="1054" y="286"/><use href="#P" x="1092" y="286"/><use href="#P" x="1111" y="286"/><use href="#P" x="1131" y="286"/><use href="#P" x="1149" y="286"/><use href="#P" x="1169" y="286"/><use href="#P" x="1207" y="286"/><use href="#P" x="1225" y="286"/><use href="#P" x="1265" y="286"/><use href="#P" x="1287" y="286"/><use href="#P" x="1307" y="286"/><use href="#P" x="1325" y="286"/><use href="#P" x="1364" y="286"/><use href="#Q" x="1386" y="286"/><use href="#Q" x="1410" y="286"/><use href="#P" x="1429" y="286"/><use href="#P" x="1449" y="286"/>
<rect class="t" x="1066" y="278" width="14" height="34.5" rx="2"/><rect class="t" x="1181" y="278" width="15" height="34.5" rx="2"/><rect class="t" x="1239" y="278" width="15" height="34.5" rx="2"/><rect class="t" x="1338" y="278" width="15" height="34.5" rx="2"/>
<text class="n" y="289"><tspan x="954">86</tspan><tspan x="974" class="w">82</tspan><tspan x="995">78</tspan><tspan x="1016">74</tspan><tspan x="1035">70</tspan><tspan x="1054">66</tspan><tspan x="1092">62</tspan><tspan x="1111">58</tspan><tspan x="1131">54</tspan><tspan x="1149">50</tspan><tspan x="1169">46</tspan><tspan x="1207">42</tspan><tspan x="1225">38</tspan><tspan x="1265">34</tspan><tspan x="1287">30</tspan><tspan x="1307">26</tspan><tspan x="1325">22</tspan><tspan x="1364">18</tspan><tspan x="1386" class="w">14</tspan><tspan x="1410" class="w">10</tspan><tspan x="1429">6</tspan><tspan x="1449">2</tspan></text>
<text class="n" y="307.5"><tspan x="954">85</tspan><tspan x="974" class="w">81</tspan><tspan x="995">77</tspan><tspan x="1016">73</tspan><tspan x="1035">69</tspan><tspan x="1054">65</tspan><tspan x="1092">61</tspan><tspan x="1111">57</tspan><tspan x="1131">53</tspan><tspan x="1149">49</tspan><tspan x="1169">45</tspan><tspan x="1207">41</tspan><tspan x="1225">37</tspan><tspan x="1265">33</tspan><tspan x="1287">29</tspan><tspan x="1307">25</tspan><tspan x="1325">21</tspan><tspan x="1364">17</tspan><tspan x="1386" class="w">13</tspan><tspan x="1410" class="w">9</tspan><tspan x="1429">5</tspan><tspan x="1449">1</tspan></text>
</g>

<!-- ============ K ============ -->
<text class="lb" x="847" y="384">K</text>
<text class="h" x="1183" y="390">FIRST CLASS</text>
<use href="#SH" transform="translate(866,395) scale(1.017,0.98)"/>
<use href="#lug" x="884" y="411"/><use href="#wc" x="884" y="479"/>
<g transform="translate(3.5,0)">
<g fill="#c9c9c9">
<rect x="927.5" y="399" width="15" height="19" rx="1.5"/><rect x="954.5" y="399" width="15" height="19" rx="1.5"/><rect x="1034.5" y="399" width="15" height="19" rx="1.5"/><rect x="1060.5" y="399" width="15" height="19" rx="1.5"/><rect x="1088.5" y="399" width="15" height="19" rx="1.5"/><rect x="1116.5" y="399" width="15" height="19" rx="1.5"/><rect x="1144.5" y="399" width="15" height="19" rx="1.5"/><rect x="1171.5" y="399" width="15" height="19" rx="1.5"/><rect x="1204.5" y="399" width="15" height="19" rx="1.5"/><rect x="1232.5" y="399" width="15" height="19" rx="1.5"/><rect x="1259.5" y="399" width="15" height="19" rx="1.5"/><rect x="1286.5" y="399" width="15" height="19" rx="1.5"/><rect x="1313.5" y="399" width="15" height="19" rx="1.5"/><rect x="1420.5" y="399" width="15" height="19" rx="1.5"/>
<rect x="1443.5" y="472" width="15" height="19" rx="1.5"/>
</g>
<rect class="g" x="980.5" y="399" width="15" height="19" rx="1.5"/><rect class="g" x="1007.5" y="399" width="15" height="19" rx="1.5"/><rect class="g" x="1340.5" y="399" width="15" height="19" rx="1.5"/><rect class="g" x="1368.5" y="399" width="15" height="19" rx="1.5"/><rect class="g" x="1394.5" y="399" width="15" height="19" rx="1.5"/>
<rect class="t" x="945" y="397" width="6" height="24" rx="2"/><rect class="t" x="972" y="397" width="6" height="24" rx="2"/><rect class="t" x="999" y="397" width="6" height="24" rx="2"/><rect class="t" x="1025" y="397" width="6" height="24" rx="2"/><rect class="t" x="1052" y="397" width="6" height="24" rx="2"/><rect class="t" x="1079" y="397" width="6" height="24" rx="2"/><rect class="t" x="1107" y="397" width="6" height="24" rx="2"/><rect class="t" x="1134" y="397" width="6" height="24" rx="2"/><rect class="t" x="1162" y="397" width="6" height="24" rx="2"/><rect class="t" x="1189" y="397" width="13" height="24" rx="2"/><rect class="t" x="1222" y="397" width="6" height="24" rx="2"/><rect class="t" x="1251" y="397" width="6" height="24" rx="2"/><rect class="t" x="1278" y="397" width="6" height="24" rx="2"/><rect class="t" x="1305" y="397" width="6" height="24" rx="2"/><rect class="t" x="1332" y="397" width="6" height="24" rx="2"/><rect class="t" x="1359" y="397" width="6" height="24" rx="2"/><rect class="t" x="1387" y="397" width="6" height="24" rx="2"/><rect class="t" x="1413" y="397" width="6" height="24" rx="2"/>
<rect class="t" x="1441" y="398" width="14" height="32" rx="2"/><use href="#lug" x="1448" y="414"/>
<text class="n" y="411.5"><tspan x="935">62</tspan><tspan x="962">59</tspan><tspan x="988" class="w">56</tspan><tspan x="1015" class="w">53</tspan><tspan x="1042">50</tspan><tspan x="1068">47</tspan><tspan x="1096">44</tspan><tspan x="1124">41</tspan><tspan x="1152">38</tspan><tspan x="1179">35</tspan><tspan x="1212">32</tspan><tspan x="1240">26</tspan><tspan x="1267">23</tspan><tspan x="1294">20</tspan><tspan x="1321">17</tspan><tspan x="1348" class="w">14</tspan><tspan x="1376" class="w">11</tspan><tspan x="1402" class="w">8</tspan><tspan x="1428">5</tspan></text>
<rect class="t" x="928" y="463" width="18" height="34" rx="2"/><use href="#lug" x="937" y="479"/>
<use href="#P" x="957" y="460"/><use href="#P" x="991" y="460"/><use href="#P" x="1011" y="460"/><use href="#P" x="1045" y="460"/><use href="#P" x="1064" y="460"/><use href="#P" x="1098" y="460"/><use href="#P" x="1119" y="460"/><use href="#P" x="1153" y="460"/><use href="#P" x="1172" y="460"/><use href="#P" x="1205" y="460"/><use href="#P" x="1225" y="460"/><use href="#P" x="1260" y="460"/><use href="#P" x="1279" y="460"/><use href="#P" x="1314" y="460"/><use href="#P" x="1334" y="460"/><use href="#P" x="1368" y="460"/><use href="#P" x="1395" y="460"/><use href="#P" x="1423" y="460"/>
<rect class="t" x="968" y="451" width="12" height="39" rx="2"/><rect class="t" x="1022" y="451" width="12" height="39" rx="2"/><rect class="t" x="1076" y="451" width="12" height="39" rx="2"/><rect class="t" x="1130" y="451" width="12" height="39" rx="2"/><rect class="t" x="1183" y="451" width="12" height="39" rx="2"/><rect class="t" x="1237" y="451" width="12" height="39" rx="2"/><rect class="t" x="1292" y="451" width="11" height="39" rx="2"/><rect class="t" x="1345" y="451" width="12" height="39" rx="2"/><rect class="t" x="1379" y="451" width="6" height="39" rx="2"/><rect class="t" x="1406" y="451" width="6" height="39" rx="2"/><rect class="t" x="1435" y="468" width="6" height="22" rx="2"/>
<text class="n" y="463"><tspan x="957">58</tspan><tspan x="991">55</tspan><tspan x="1011">52</tspan><tspan x="1045">49</tspan><tspan x="1064">46</tspan><tspan x="1098">43</tspan><tspan x="1119">40</tspan><tspan x="1153">37</tspan><tspan x="1172">34</tspan><tspan x="1205">31</tspan><tspan x="1225">25</tspan><tspan x="1260">22</tspan><tspan x="1279">19</tspan><tspan x="1314">16</tspan><tspan x="1334">13</tspan><tspan x="1368">10</tspan><tspan x="1395">7</tspan><tspan x="1423">4</tspan></text>
<text class="n" y="481.5"><tspan x="957">57</tspan><tspan x="991">54</tspan><tspan x="1011">51</tspan><tspan x="1045">48</tspan><tspan x="1064">45</tspan><tspan x="1098">42</tspan><tspan x="1119">39</tspan><tspan x="1153">36</tspan><tspan x="1172">33</tspan><tspan x="1205">30</tspan><tspan x="1225">24</tspan><tspan x="1260">21</tspan><tspan x="1279">18</tspan><tspan x="1314">15</tspan><tspan x="1334">12</tspan><tspan x="1368">9</tspan><tspan x="1395">6</tspan><tspan x="1423">3</tspan><tspan x="1451" dy="3">1</tspan></text>
</g>

<!-- ============ L ============ -->
<text class="lb" x="847" y="556">L</text>
<text class="h" x="1181" y="563">FIRST CLASS</text>
<path fill="#e9eaeb" d="M866,566H1440Q1510,566 1525,610V622Q1510,666 1440,666H866Q861,666 861,661V632H856V600H861V571Q861,566 866,566Z"/>
<path class="o" d="M974,566H866Q861,566 861,571V600H856V632H861V661Q861,666 866,666H974M971,566V575H904L880,600H856M861,632H895V666M895,633Q915,604 940,604Q968,606 974,625V666"/>
<path class="s" d="M1021,566H1440Q1510,566 1525,610V622Q1510,666 1440,666H1021M1021,566V590M1021,632V666M1228,566V666M1419,566V666"/>
<rect class="o" x="1362" y="566" width="30" height="34"/><rect class="o" x="1362" y="632" width="30" height="34"/>
<path class="o" d="M959,560H974M999,560H1014M959,672H974M999,672H1014"/>
<use href="#big" x="940" y="643"/>
<text class="h" x="1302" y="620">Kitchen and Crew areas</text>
<text class="h" x="1466" y="620">Cab</text>
<rect class="g" x="1023" y="572" width="37" height="19"/><text class="wh" x="1041.5" y="585.5">44 ♿</text>
<rect class="g" x="1023" y="643" width="37" height="19"/><text class="wh" x="1041.5" y="656.5">43 ♿</text>
<g fill="#c9c9c9"><rect x="1086.5" y="573" width="15" height="19" rx="1.5"/><rect x="1176.5" y="573" width="15" height="19" rx="1.5"/><rect x="1205.5" y="573" width="15" height="19" rx="1.5"/>
<rect x="1090.5" y="623" width="15" height="18" rx="1.5"/><rect x="1110.5" y="623" width="15" height="18" rx="1.5"/><rect x="1147.5" y="623" width="15" height="18" rx="1.5"/><rect x="1168.5" y="623" width="15" height="18" rx="1.5"/><rect x="1205.5" y="623" width="15" height="18" rx="1.5"/>
<rect x="1090.5" y="643.5" width="15" height="18" rx="1.5"/><rect x="1110.5" y="643.5" width="15" height="18" rx="1.5"/><rect x="1147.5" y="643.5" width="15" height="18" rx="1.5"/><rect x="1168.5" y="643.5" width="15" height="18" rx="1.5"/><rect x="1205.5" y="643.5" width="15" height="18" rx="1.5"/></g>
<rect class="g" x="1116.5" y="573" width="15" height="19" rx="1.5"/><rect class="g" x="1145.5" y="573" width="15" height="19" rx="1.5"/>
<rect class="t" x="1105" y="571" width="8" height="23" rx="2"/><rect class="t" x="1134" y="571" width="8" height="23" rx="2"/><rect class="t" x="1164" y="571" width="8" height="23" rx="2"/><rect class="t" x="1195" y="571" width="8" height="23" rx="2"/>
<rect class="t" x="1064" y="642" width="23" height="20" rx="2"/><rect class="t" x="1129" y="622" width="16" height="40" rx="2"/><rect class="t" x="1187" y="622" width="16" height="40" rx="2"/>
<text class="n" y="585.5"><tspan x="1094">47</tspan><tspan x="1124" class="w">50</tspan><tspan x="1153" class="w">53</tspan><tspan x="1184">56</tspan><tspan x="1213">59</tspan></text>
<text class="n" y="635"><tspan x="1098">46</tspan><tspan x="1118">49</tspan><tspan x="1155">52</tspan><tspan x="1176">55</tspan><tspan x="1213">58</tspan></text>
<text class="n" y="655.5"><tspan x="1098">45</tspan><tspan x="1118">48</tspan><tspan x="1155">51</tspan><tspan x="1176">54</tspan><tspan x="1213">57</tspan></text>

<!-- ============ KEY ============ -->
<text class="k" x="866" y="762">Key</text>
<rect x="864" y="771" width="15" height="16" rx="1.5" fill="#c9c9c9"/><text class="n" x="871.5" y="782">1</text>
<text class="k" x="890" y="785">Seat with number</text>
<rect class="g" x="1007" y="771" width="16" height="17"/><text class="n w" x="1015" y="782.5">50</text>
<text class="k" x="1036" y="785">Priority seating</text>
<rect class="g" x="1137" y="770" width="36" height="17"/><text class="wh" x="1155" y="782.5">43 ♿</text>
<text class="k" x="1180" y="783">Wheelchair space</text>
<rect class="t" x="1288" y="772" width="18" height="17" rx="2"/>
<text class="k" x="1325" y="785">Table</text>
<use href="#lug" transform="translate(876,808) scale(1.3)"/>
<text class="k" x="891" y="812">Luggage area</text>
<use href="#bk" x="1016" y="808"/>
<text class="k" x="1040" y="812">Cycle storage area</text>
<use href="#wc" x="1163" y="808"/>
<text class="k" x="1182" y="812">Toilets</text>
<use href="#big" x="1300" y="808"/>
<text class="k" x="1338" y="812">Larger toilet with baby changing facilities</text>
</svg>
</body></html>
